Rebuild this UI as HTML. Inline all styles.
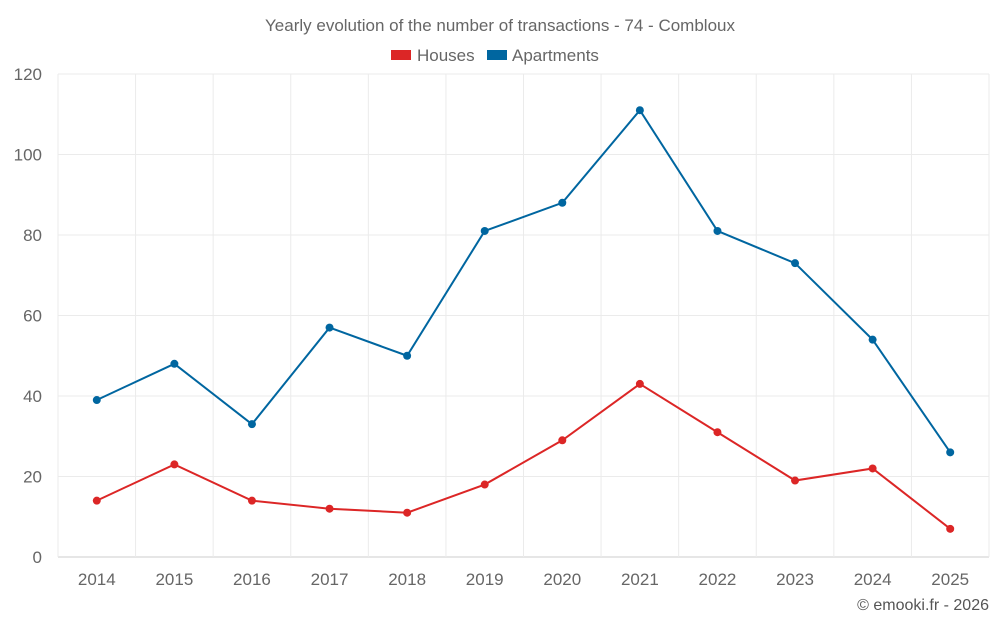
<!DOCTYPE html>
<html><head><meta charset="utf-8"><style>
body{margin:0;background:#fff;font-family:"Liberation Sans",sans-serif;}
svg text{font-family:"Liberation Sans",sans-serif;}
</style></head><body>
<svg id="chart" width="1000" height="625">
<text x="500" y="31" text-anchor="middle" font-size="17" fill="#666">Yearly evolution of the number of transactions - 74 - Combloux</text>
<g>
<g><rect x="391" y="50" width="20" height="10" fill="#dc2626"/><text x="417" y="61" font-size="17" fill="#666">Houses</text></g>
<g><rect x="487" y="50" width="20" height="10" fill="#0066a0"/><text x="512" y="61" font-size="17" fill="#666">Apartments</text></g>
</g>
<g id="grid"></g><g id="axes"></g><g id="series"></g>
<text x="989" y="610" text-anchor="end" font-size="16" fill="#555">© emooki.fr - 2026</text>
</svg>
<script>
const years=["2014","2015","2016","2017","2018","2019","2020","2021","2022","2023","2024","2025"];
const houses=[14,23,14,12,11,18,29,43,31,19,22,7];
const apartments=[39,48,33,57,50,81,88,111,81,73,54,26];
const yTicks=[0,20,40,60,80,100,120];
const L=58,R=989,T=74,B=557,yMax=120;
const bw=(R-L)/years.length;
const xs=i=>L+bw*(i+0.5);
const ys=v=>B-(v/yMax)*(B-T);
const NS="http://www.w3.org/2000/svg";
function mk(tag,attrs,parent){const e=document.createElementNS(NS,tag);for(const k in attrs)e.setAttribute(k,attrs[k]);parent.appendChild(e);return e;}
const grid=document.getElementById('grid'),axes=document.getElementById('axes'),ser=document.getElementById('series');
yTicks.forEach(t=>{
 const l=mk('line',{x1:L,x2:R,y1:ys(t),y2:ys(t),stroke:t===0?'#ccc':'#ebebeb'},grid);
 
 
 const tx=mk('text',{x:L-16,y:ys(t)+6,'text-anchor':'end','font-size':17,fill:'#666'},axes);tx.textContent=t;
 
 
});
for(let i=0;i<=years.length;i++){
 const l=mk('line',{x1:L+bw*i,x2:L+bw*i,y1:T,y2:B,stroke:'#ebebeb'},grid);
 
 
}
years.forEach((y,i)=>{
 const tx=mk('text',{x:xs(i),y:585,'text-anchor':'middle','font-size':17,fill:'#666'},axes);tx.textContent=y;
 
 
});
function draw(vals,color,name){
 const p=mk('polyline',{points:vals.map((v,i)=>xs(i)+','+ys(v)).join(' '),fill:'none',stroke:color,'stroke-width':2},ser);
 
 
 vals.forEach((v,i)=>{
  const c=mk('circle',{cx:xs(i),cy:ys(v),r:4,fill:color},ser);
  
  
 });
}
draw(apartments,'#0066a0','apartments');
draw(houses,'#dc2626','houses');
</script>
</body></html>
